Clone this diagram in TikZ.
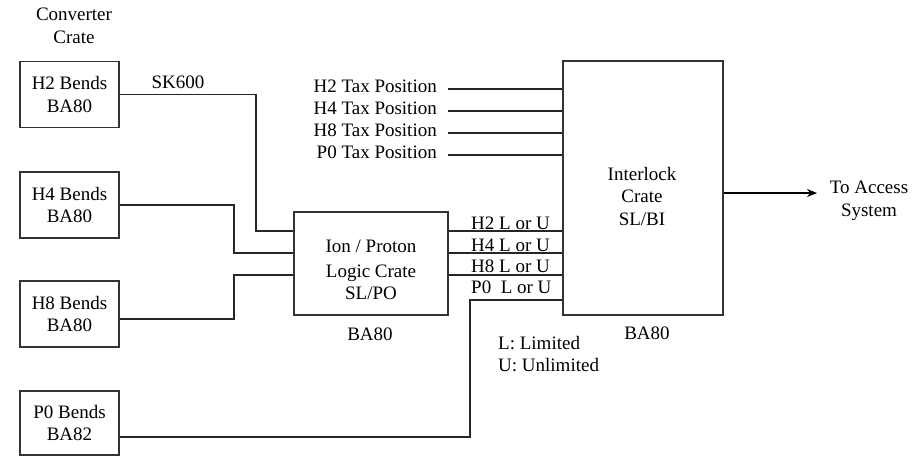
\documentclass[tikz,border=0pt]{standalone}
\usepackage{fontspec}
\setmainfont{Liberation Serif}
\usetikzlibrary{arrows.meta,positioning,calc}

\begin{document}
\begin{tikzpicture}[x=1pt, y=-1pt,
    every node/.style={font=\fontsize{19}{22.5}\selectfont},
    box/.style={rectangle, draw=black!80, line width=1.1pt, minimum width=#1, minimum height=66pt, align=center, inner sep=0pt},
    box/.default=99pt,
    wire/.style={line width=1.1pt, draw=black!85},
    arr/.style={-{Stealth[length=10pt, width=8pt]}, line width=1.1pt},
    lbl/.style={inner sep=0pt, align=center}
]
\useasboundingbox (0,0) rectangle (920,456);

% converter crate
\node[lbl] (conv) at (74,26) {Converter\\Crate};
\node[box] (h2) at (69.5,94.5) {H2 Bends\\BA80};
\node[box] (h4) at (69.5,205) {H4 Bends\\BA80};
\node[box] (h8) at (69.5,314) {H8 Bends\\BA80};
\node[box, minimum height=64pt] (p0) at (69.5,423) {P0 Bends\\BA82};
\node[lbl] (sk) at (178,82) {SK600};

% logic crate
\node[box=154pt, minimum height=103pt] (logic) at (371,263.5) {};
\node[lbl] (logictxt) at (371,270) {Ion / Proton\\[2pt]Logic Crate\\SL/PO};
\node[lbl] (logicba) at (370,334) {BA80};

% interlock crate
\node[box=160pt, minimum height=254pt] (ilock) at (643,188) {};
\node[lbl] (ilocktxt) at (642,196) {Interlock\\Crate\\SL/BI};
\node[lbl] (ilockba) at (647,333) {BA80};

% tax positions
\foreach \nm/\yy in {H2/89, H4/111, H8/133, P0/155} {
  \node[lbl, anchor=east] (tax\nm) at (437,\yy-3) {\nm\ Tax Position};
  \draw[wire] (448,\yy) -- (448,\yy -| ilock.west);
}

% limited / unlimited
\foreach \nm/\yy/\ly in {H2/231/223, H4/253/245, H8/275/266} {
  \node[lbl, anchor=west] (lu\nm) at (471,\ly) {\nm\ L or U};
  \draw[wire] (logic.east |- 0,\yy) -- (ilock.west |- 0,\yy);
}
\node[lbl, anchor=west] (luP0) at (471,287) {P0~ L or U};
\node[lbl, anchor=west, align=left] (legend) at (498,354) {L: Limited\\U: Unlimited};

% bends to logic
\draw[wire] (h2.east) -| (256,231) -- (logic.west |- 0,231);
\draw[wire] (h4.east) -| (234,253) -- (logic.west |- 0,253);
\draw[wire] (h8.east |- 0,319) -| (234,275) -- (logic.west |- 0,275);
\draw[wire] (p0.east |- 0,437) -| (470,300) -- (ilock.west |- 0,300);

% output
\coordinate (tip) at (817,193);
\draw[arr] (ilock.east |- tip) -- (tip);
\node[lbl] (access) at (869,201) {To Access\\System};
\end{tikzpicture}
\end{document}
